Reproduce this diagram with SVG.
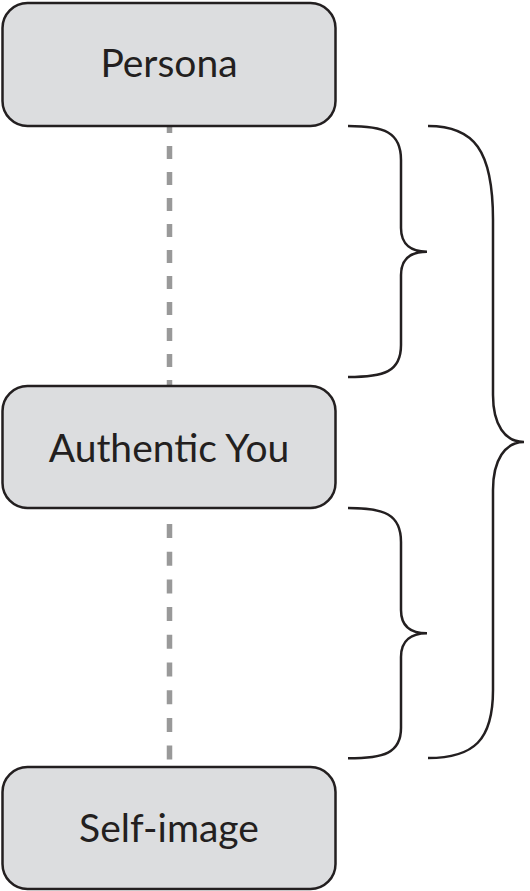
<svg xmlns="http://www.w3.org/2000/svg" width="530" height="891" viewBox="0 0 530 891">
<style>
.box{fill:#dcdddf;stroke:#231f20;stroke-width:2.5}
.lbl{font-family:"Lato","Liberation Sans",sans-serif;font-size:39px;fill:#231f20;text-anchor:middle}
.dash{stroke:#999999;stroke-width:5.5;fill:none}
.brace{fill:none;stroke:#231f20;stroke-width:2.5}
</style>
<rect width="530" height="891" fill="#ffffff"/>
<g id="connectors">
<line class="dash" x1="169.5" y1="120" x2="169.5" y2="386" stroke-dasharray="13 13"/>
<line class="dash" x1="169.5" y1="524" x2="169.5" y2="766" stroke-dasharray="14 13.7"/>
<path id="brace-top" class="brace" d="M348,126 C384,126 401,132 401,160 L401,228 C401,245 412,251.7 427,251.7 C412,251.7 401,258 401,275 L401,345 C401,372 384,377 348,377"/>
<path id="brace-bottom" class="brace" d="M348,508 C384,508 401,514 401,542 L401,610 C401,627 412,633.3 427,633.3 C412,633.3 401,640 401,657 L401,728 C401,753 384,758.3 348,758.3"/>
<path id="brace-big" class="brace" d="M428,126 C474,126 493,150 493,220 L493,395 C493,425 505,442 524,442 C505,442 493,460 493,490 L493,690 C493,740 474,758 428,758"/>
</g>
<g id="persona">
<rect class="box" x="2.5" y="3" width="333" height="123" rx="25"/>
<text class="lbl" x="169" y="77.3">Persona</text>
</g>
<g id="authentic-you">
<rect class="box" x="2.5" y="386" width="333" height="122" rx="25"/>
<text class="lbl" x="169" y="461.7">Authentic You</text>
</g>
<g id="self-image">
<rect class="box" x="2.5" y="767" width="333" height="122" rx="25"/>
<text class="lbl" x="169" y="841.7">Self-image</text>
</g>
</svg>
